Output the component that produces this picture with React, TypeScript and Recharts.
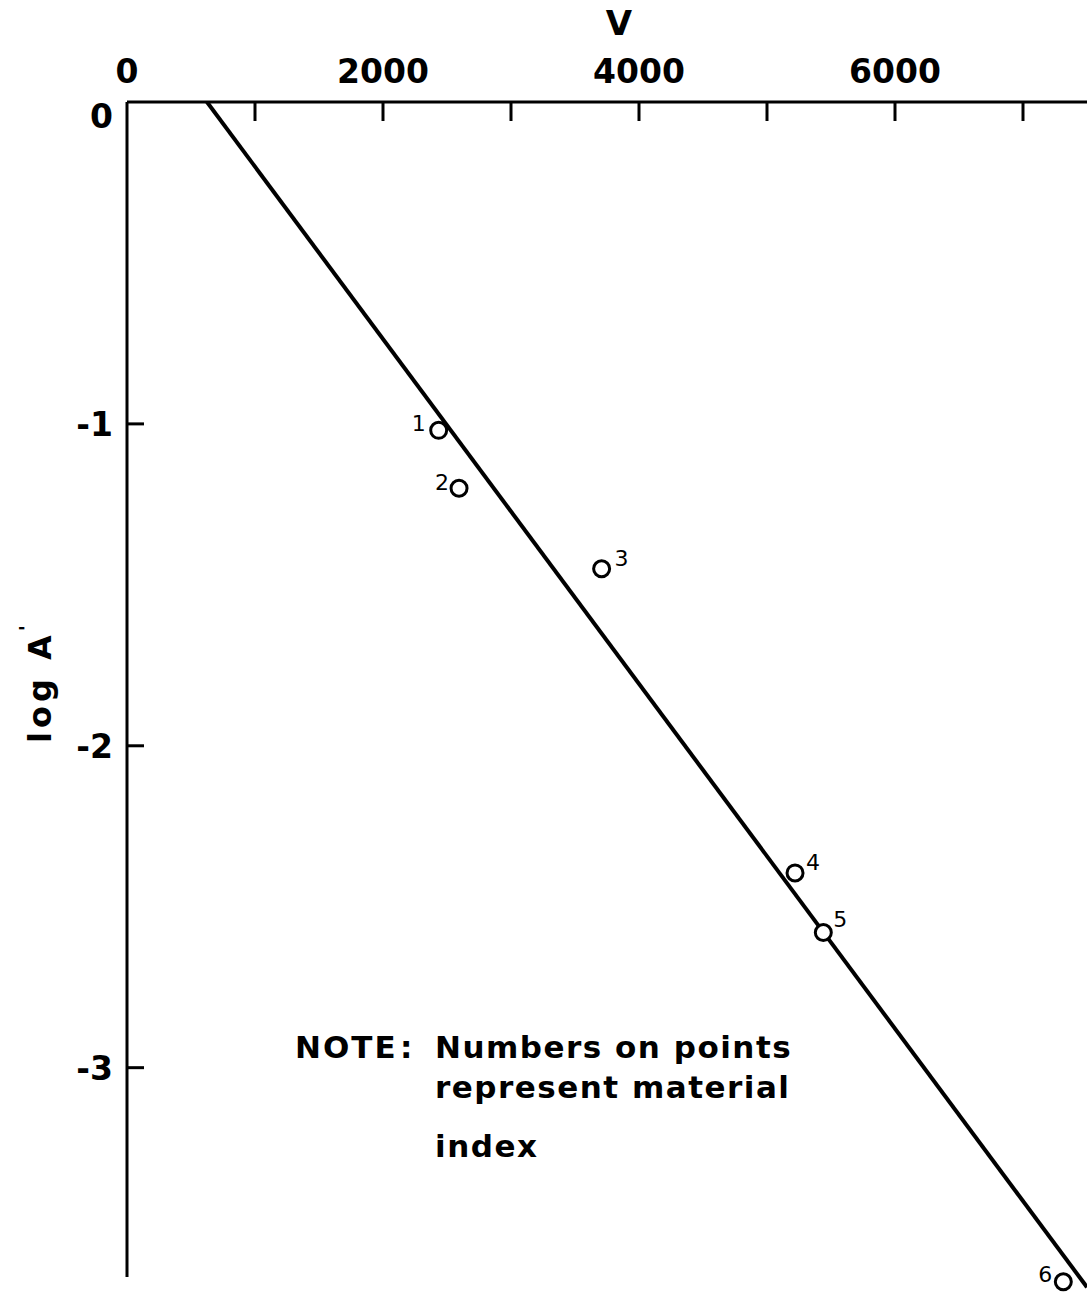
import React from 'react';
import {
  ScatterChart,
  Scatter,
  XAxis,
  YAxis,
  ReferenceLine,
  Customized,
} from 'recharts';

// ---- data ----
const materialIndex = [1, 2, 3, 4, 5, 6];
const vValues = [2435, 2594, 3708, 5219, 5440, 7315];
const logAValues = [-1.02, -1.2, -1.45, -2.395, -2.58, -3.665];

const fitLineV = [625, 7500];
const fitLineLogA = [0, -3.682];

const xTicks = [0, 1000, 2000, 3000, 4000, 5000, 6000, 7000];
const xLabelledTicks = [0, 2000, 4000, 6000];
const yTicks = [0, -1, -2, -3];

const noteHead = 'NOTE';
const noteLines = ['Numbers on points', 'represent material', 'index'];

const points = materialIndex.map((m, i) => ({ V: vValues[i], logA: logAValues[i], label: m }));
const fitLine = fitLineV.map((v, i) => ({ V: v, logA: fitLineLogA[i] }));

// ---- styling ----
const FONT = '"DejaVu Sans", sans-serif';
const INK = '#000';

// label placement relative to each point (style only)
const labelOffset: Record<number, [number, number]> = {
  1: [-20, -7],
  2: [-17, -6],
  3: [20, -10],
  4: [18, -10],
  5: [17, -13],
  6: [-18, -7],
};

const XTick = (props: any) => {
  const { x, y, payload } = props;
  const v = payload.value;
  return (
    <g>
      {v !== 0 && <line x1={x} x2={x} y1={y} y2={y + 19} stroke={INK} strokeWidth={3} />}
      {xLabelledTicks.includes(v) && (
        <text x={x} y={y - 19} textAnchor="middle" fontFamily={FONT} fontWeight="bold" fontSize={33} fill={INK}>
          {String(v)}
        </text>
      )}
    </g>
  );
};

const YTick = (props: any) => {
  const { x, y, payload } = props;
  const v = payload.value;
  return (
    <g>
      {v !== 0 && <line x1={x} x2={x + 17} y1={y} y2={y} stroke={INK} strokeWidth={3} />}
      <text
        x={x - 14}
        y={v === 0 ? y + 26 : y + 12}
        textAnchor="end"
        fontFamily={FONT}
        fontWeight="bold"
        fontSize={33}
        fill={INK}
      >
        {v === 0 ? '0' : '-' + String(Math.abs(v))}
      </text>
    </g>
  );
};

const XLabel = (props: any) => {
  const vb = props.viewBox || { x: 127, width: 960 };
  return (
    <text x={vb.x + vb.width / 2 + 12} y={35} textAnchor="middle" fontFamily={FONT} fontWeight="bold" fontSize={34} fill={INK}>
      V
    </text>
  );
};

const YLabel = () => (
  <text
    transform="translate(51,682) rotate(-90)"
    textAnchor="middle"
    fontFamily={FONT}
    fontWeight="bold"
    fontSize={32}
    letterSpacing={4}
    fill={INK}
  >
    log A
    <tspan dy={-18} fontSize={20}>'</tspan>
  </text>
);

const PointShape = (props: any) => {
  const { cx, cy, payload } = props;
  const off = labelOffset[payload.label] || [15, -10];
  return (
    <g>
      <circle cx={cx} cy={cy} r={8} fill="#fff" stroke={INK} strokeWidth={3} />
      <text
        x={cx + off[0]}
        y={cy + off[1]}
        textAnchor="middle"
        dominantBaseline="central"
        fontFamily={FONT}
        fontSize={22}
        fill={INK}
      >
        {String(payload.label)}
      </text>
    </g>
  );
};

const NoShape = () => null;

const Note = () => (
  <g fontFamily={FONT} fontWeight="bold" fontSize={31} fill={INK} letterSpacing={1.5}>
    <text x={295} y={1058} letterSpacing={2}>{noteHead}</text>
    <text x={400} y={1058}>:</text>
    <text x={435} y={1058}>{noteLines[0]}</text>
    <text x={435} y={1098}>{noteLines[1]}</text>
    <text x={435} y={1157}>{noteLines[2]}</text>
  </g>
);

export default function App() {
  return (
    <div style={{ position: 'absolute', left: 0, top: 0, background: '#fff' }}>
      <ScatterChart width={1091} height={1296} margin={{ top: 0, right: 4, bottom: 3, left: 0 }}>
        <XAxis
          type="number"
          dataKey="V"
          orientation="top"
          domain={[0, 7500]}
          ticks={xTicks}
          interval={0}
          height={102}
          tickSize={0}
          tickMargin={0}
          tickLine={false}
          axisLine={{ stroke: INK, strokeWidth: 3 }}
          tick={<XTick />}
          label={(p: any) => <XLabel {...p} />}
          allowDataOverflow
        />
        <YAxis
          type="number"
          dataKey="logA"
          domain={[-3.7, 0]}
          ticks={yTicks}
          interval={0}
          width={127}
          tickSize={0}
          tickMargin={0}
          tickLine={false}
          axisLine={false}
          tick={<YTick />}
          label={() => <YLabel />}
          allowDataOverflow
        />
        <ReferenceLine
          segment={[
            { x: 0, y: 0 },
            { x: 0, y: -3.65 },
          ]}
          stroke={INK}
          strokeWidth={3}
          ifOverflow="visible"
        />
        <Scatter
          data={fitLine}
          line={{ stroke: INK, strokeWidth: 4 }}
          shape={<NoShape />}
          isAnimationActive={false}
        />
        <Scatter data={points} shape={<PointShape />} isAnimationActive={false} />
        <Customized component={<Note />} />
      </ScatterChart>
    </div>
  );
}
